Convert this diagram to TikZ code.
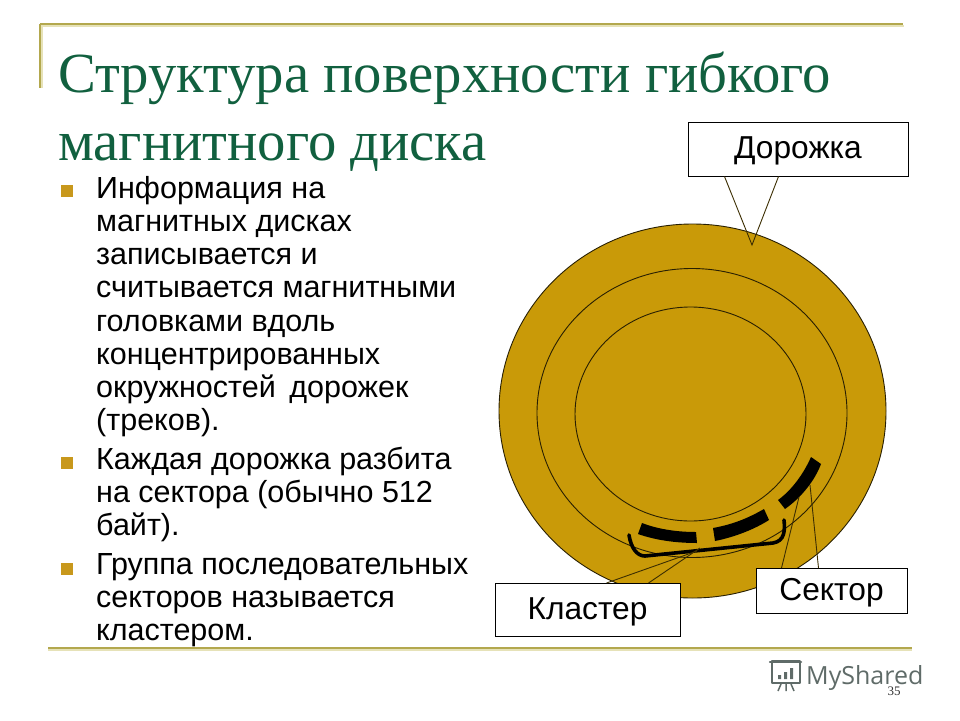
\documentclass[tikz,border=0pt]{standalone}
\usepackage{fontspec}
\setmainfont{Liberation Sans}
\newfontfamily\titlefont{Liberation Serif}
\newfontfamily\wmfont{Open Sans}
\usetikzlibrary{calc}
\definecolor{rulegold}{HTML}{B3A84E}
\definecolor{ruleshade}{HTML}{E6E2B8}
\definecolor{titlegreen}{HTML}{11603F}
\definecolor{bulletgold}{HTML}{C8981C}
\definecolor{discgold}{HTML}{C99A08}
\definecolor{wmgray}{HTML}{5F6B68}
\tikzset{
  x=1pt,y=-1pt,
  titleline/.style={anchor=base west,inner sep=0pt,text=titlegreen,font=\titlefont\fontsize{56.7}{60}\selectfont},
  bodytext/.style={anchor=north west,inner sep=0pt,align=left,text=black,font=\fontsize{30.5}{33.2}\selectfont},
  bulletmark/.style={fill=bulletgold,minimum size=12pt,inner sep=0pt,draw=none},
  callout/.style={draw=black,fill=white,line width=1pt,inner sep=0pt,text=black,font=\fontsize{31.7}{34}\selectfont},
  ring/.style={draw=black!80!discgold,line width=0.9pt},
  leader/.style={draw=black!70!discgold,line width=0.9pt},
  rulemain/.style={draw=rulegold,line width=2pt},
  ruleback/.style={draw=ruleshade,line width=2pt},
}
\newcommand{\lowertext}[1]{\raisebox{-2pt}[\height][\depth]{#1}}
\begin{document}
\begin{tikzpicture}
\useasboundingbox (0,0) rectangle (960,720);
% frame rules
\draw[ruleback] (41,26) -- (904,26);
\draw[ruleback] (42,26) -- (42,88);
\draw[ruleback] (48,650) -- (912,650);
\draw[rulemain] (40,24) -- (903,24);
\draw[rulemain] (40,24) -- (40,88);
\draw[rulemain] (48,648) -- (912,648);
% title
\node[titleline] (title1) at (58,92) {Структура поверхности гибкого};
\node[titleline] (title2) at (58,160) {магнитного диска};
% body
\node[bulletmark] (b1) at (67,191) {};
\node[bulletmark] (b2) at (67,463) {};
\node[bulletmark] (b3) at (67,569) {};
\node[bodytext] (p1) at (96,176) {Информация на\\магнитных дисках\\записывается и\\считывается магнитными\\головками вдоль\\концентрированных\\окружностей\, дорожек\\(треков).};
\node[bodytext] (p2) at (96,447) {Каждая дорожка разбита\\на сектора (обычно 512\\байт).};
\node[bodytext] (p3) at (96,553) {Группа последовательных\\секторов называется\\кластером.};
% disc
\fill[discgold] (692.5,411) ellipse (193.5 and 187);
\draw[ring] (692.5,411) ellipse (193.5 and 187);
\draw[ring] (692,413) ellipse (155 and 144.5);
\draw[ring] (690.5,414) ellipse (115.5 and 107);
% sectors
\fill[black] (642,523) .. controls (660,530) and (680,532) .. (696,532) -- (697,543) .. controls (675,543) and (655,540) .. (638,534) -- cycle;
\fill[black] (713,528) .. controls (735,524) and (750,517) .. (764,509) -- (769,520) .. controls (755,529) and (735,537) .. (715,541) -- cycle;
\coordinate (sectA) at (799,497);
\coordinate (sectB) at (810,485);
\fill[black] (811,457) -- (821,464) .. controls (815,480) and (802,497) .. (785,509) -- (778,500) .. controls (792,490) and (804,473) .. (811,457) -- cycle;
% cluster bracket
\draw[black,line width=3.6pt,line cap=round,line join=round] (629,535) .. controls (631,548) and (637,556) .. (645,556) -- (773,543) .. controls (785,541) and (785,530) .. (784,520);
\coordinate (brackA) at (700,548);
\coordinate (brackB) at (697,551);
\coordinate (trackTip) at (752,245);
% callouts
\node[callout,minimum width=220pt,minimum height=54pt] (dor) at (798,149) {\lowertext{Дорожка}};
\node[callout,minimum width=151pt,minimum height=45pt] (sec) at (831.5,591) {\lowertext{Сектор}};
\node[callout,minimum width=185pt,minimum height=53pt] (kla) at (587.5,610) {\lowertext{Кластер}};
\draw[leader] ($(dor.south west)+(37,0)$) -- (trackTip) -- ($(dor.south west)+(91,0)$);
\draw[leader] ($(sec.north west)+(26,0)$) -- (sectA);
\draw[leader] ($(sec.north west)+(63,0)$) -- (sectB);
\draw[leader] ($(kla.north west)+(112,0)$) -- (brackB);
\draw[leader] ($(kla.north west)+(154,0)$) -- (brackA);
% watermark
\node[anchor=base west,inner sep=0pt,text=wmgray,font=\wmfont\fontsize{25}{30}\selectfont] (wm) at (806,684) {MyShared};
\draw[wmgray,line width=1.6pt,line join=round] (772,661) rectangle (800,683);
\draw[wmgray,line width=2.5pt,line cap=round] (770,662) -- (801,662);
\fill[wmgray] (778,675) rectangle (781,679) (784,672) rectangle (787,679) (790,668) rectangle (793,679);
\draw[wmgray,line width=1.5pt] (781,684) -- (778,691) (786,684) -- (786,691) (791,684) -- (794,691);
\node[anchor=base,inner sep=0pt,text=black!80,font=\titlefont\fontsize{13}{14}\selectfont] (num) at (894,695) {35};
\end{tikzpicture}
\end{document}
